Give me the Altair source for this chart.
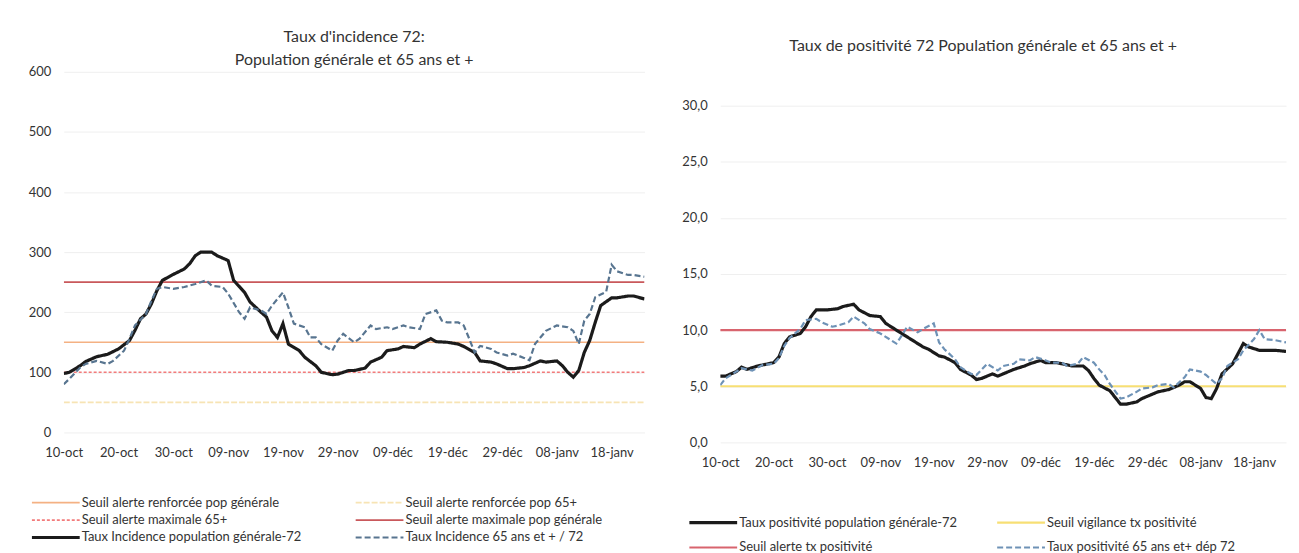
import altair as alt
import pandas as pd

FONT = "Lato, sans-serif"
DEBUT = "2020-10-10"
FIN = "2021-01-24"

# x-axis ticks
tick_dates = ["2020-10-10", "2020-10-20", "2020-10-30", "2020-11-09", "2020-11-19", "2020-11-29",
              "2020-12-09", "2020-12-19", "2020-12-29", "2021-01-08", "2021-01-18"]
tick_labels = ["10-oct", "20-oct", "30-oct", "09-nov", "19-nov", "29-nov",
               "09-déc", "19-déc", "29-déc", "08-janv", "18-janv"]

# ---------- Left chart: taux d'incidence ----------
inc_gen_jours = [0, 1, 3, 4, 6, 8, 10, 12, 13, 14, 15, 16, 17, 18, 20, 22, 23, 24, 25, 27, 28, 30, 31, 33, 34,
                 36, 37, 38, 39, 40, 41, 43, 44, 46, 47, 49, 50, 52, 53, 55, 56, 58, 59, 61, 62, 64, 65, 67,
                 68, 70, 72, 73, 75, 76, 78, 79, 81, 82, 84, 85, 87, 88, 90, 91, 92, 93, 94, 95, 96, 97, 98,
                 100, 101, 103, 104, 106]
inc_gen_vals = [98, 100, 111, 118, 126, 130, 139, 153, 170, 189, 197, 214, 236, 253, 263, 272, 281, 294, 300,
                300, 294, 286, 253, 233, 217, 200, 192, 169, 158, 181, 147, 136, 125, 111, 100, 96, 97, 103,
                103, 107, 117, 125, 136, 139, 143, 141, 147, 156, 151, 150, 147, 143, 133, 119, 117, 114, 106,
                106, 108, 111, 119, 117, 119, 111, 100, 92, 103, 133, 153, 183, 211, 224, 224, 227, 227, 222]

inc_65_jours = [0, 1, 3, 4, 6, 8, 9, 11, 12, 13, 15, 16, 17, 18, 20, 22, 24, 26, 27, 29, 30, 32, 33, 34, 36,
                37, 38, 40, 41, 42, 44, 45, 46, 47, 49, 50, 51, 53, 54, 56, 57, 59, 60, 62, 63, 65, 66, 68,
                69, 70, 72, 73, 74, 75, 76, 78, 79, 81, 82, 84, 85, 86, 88, 90, 92, 93, 94, 95, 96, 97, 99,
                100, 101, 103, 104, 106]
inc_65_vals = [80, 89, 108, 114, 119, 114, 119, 136, 156, 178, 197, 219, 239, 242, 239, 242, 247, 253, 244,
               242, 231, 200, 189, 208, 203, 197, 211, 233, 208, 181, 175, 158, 158, 147, 136, 153, 164, 150,
               156, 178, 172, 175, 172, 178, 175, 172, 197, 203, 186, 183, 183, 178, 156, 133, 144, 139, 133,
               128, 131, 124, 120, 147, 169, 178, 175, 169, 147, 186, 197, 225, 234, 279, 268, 262, 262, 259]

inc_seuils_noms = ["Seuil alerte renforcée pop générale", "Seuil alerte renforcée pop 65+",
                   "Seuil alerte maximale 65+", "Seuil alerte maximale pop générale"]
inc_seuils_vals = [150, 50, 100, 250]
inc_series_noms = ["Taux Incidence population générale-72", "Taux Incidence 65 ans et + / 72"]

# legend order (filled column by column: left column first, then right column)
inc_ordre = ["Seuil alerte renforcée pop générale", "Seuil alerte maximale 65+",
             "Taux Incidence population générale-72",
             "Seuil alerte renforcée pop 65+", "Seuil alerte maximale pop générale",
             "Taux Incidence 65 ans et + / 72"]
inc_couleurs = ["#f4b183", "#f27b7b", "#1b1b1b", "#f7e4b4", "#c9585b", "#587590"]
inc_tirets = [[1, 0], [3, 2], [1, 0], [6, 2], [1, 0], [6, 3]]
inc_epaisseurs = [1.6, 1.6, 3.2, 1.6, 1.8, 2.2]

# ---------- Right chart: taux de positivité ----------
pos_gen_jours = [0, 1, 3, 4, 5, 7, 9, 10, 11, 12, 13, 15, 16, 17, 18, 20, 22, 23, 25, 26, 28, 30, 31, 33, 35,
                 36, 38, 39, 41, 42, 44, 45, 47, 48, 49, 51, 52, 54, 55, 57, 58, 60, 61, 63, 64, 66, 68, 69,
                 70, 71, 73, 74, 75, 76, 78, 79, 81, 82, 84, 86, 87, 88, 90, 91, 92, 93, 94, 96, 97, 98, 99,
                 101, 103, 104, 106]
pos_gen_vals = [5.9, 5.9, 6.3, 6.7, 6.5, 6.8, 7.0, 7.1, 7.6, 8.8, 9.4, 9.7, 10.3, 11.2, 11.8, 11.8, 11.9, 12.1,
                12.3, 11.8, 11.3, 11.2, 10.6, 10.0, 9.4, 9.1, 8.5, 8.3, 7.7, 7.6, 7.1, 6.5, 6.0, 5.6, 5.7, 6.1,
                5.9, 6.3, 6.5, 6.8, 7.0, 7.3, 7.1, 7.1, 7.0, 6.8, 6.8, 6.4, 5.7, 5.1, 4.6, 4.0, 3.4, 3.4, 3.6,
                3.9, 4.3, 4.5, 4.7, 5.1, 5.4, 5.4, 4.8, 4.0, 3.9, 4.8, 6.1, 7.0, 7.9, 8.8, 8.5, 8.2, 8.2, 8.2,
                8.1]

pos_65_jours = [0, 1, 3, 4, 6, 8, 10, 11, 12, 13, 15, 16, 18, 19, 21, 22, 24, 25, 27, 28, 30, 32, 33, 34, 35,
                37, 38, 40, 41, 42, 44, 45, 47, 48, 50, 52, 53, 55, 56, 58, 59, 61, 62, 64, 65, 67, 68, 70,
                71, 72, 73, 75, 76, 78, 79, 81, 82, 84, 85, 87, 88, 90, 91, 93, 94, 95, 97, 98, 100, 101, 102,
                104, 106]
pos_65_vals = [5.1, 5.7, 6.3, 6.6, 6.4, 6.9, 7.0, 7.5, 8.6, 9.3, 10.1, 10.9, 11.0, 10.7, 10.3, 10.4, 10.7, 11.2,
               10.6, 10.1, 9.7, 9.1, 8.8, 9.5, 10.3, 9.8, 10.1, 10.6, 8.9, 8.3, 7.4, 6.7, 6.1, 6.0, 7.0, 6.4,
               6.8, 7.0, 7.4, 7.3, 7.6, 7.3, 7.1, 7.1, 6.8, 7.0, 7.6, 7.1, 6.5, 6.0, 5.2, 3.9, 4.0, 4.5, 4.8,
               4.9, 5.1, 5.2, 4.9, 5.8, 6.5, 6.3, 6.0, 5.2, 5.7, 6.8, 7.4, 8.2, 9.2, 10.0, 9.2, 9.1, 8.9]

pos_seuils_noms = ["Seuil vigilance tx positivité", "Seuil alerte tx positivité"]
pos_seuils_vals = [5, 10]
pos_series_noms = ["Taux positivité population générale-72", "Taux positivité 65 ans et+ dép 72"]

pos_ordre = ["Taux positivité population générale-72", "Seuil alerte tx positivité",
             "Seuil vigilance tx positivité", "Taux positivité 65 ans et+ dép 72"]
pos_couleurs = ["#1b1b1b", "#d8646e", "#f7df74", "#6e92b6"]
pos_tirets = [[1, 0], [1, 0], [1, 0], [6, 3]]
pos_epaisseurs = [3.2, 2.2, 2.2, 2.2]


def to_df(nom, jours, vals):
    dates = pd.Timestamp(DEBUT) + pd.to_timedelta(jours, unit="D")
    return pd.DataFrame({"date": dates.strftime("%Y-%m-%d"), "valeur": vals, "serie": nom})


def seuils_df(noms, vals):
    rows = []
    for n, v in zip(noms, vals):
        rows.append({"date": DEBUT, "valeur": v, "serie": n})
        rows.append({"date": FIN, "valeur": v, "serie": n})
    return pd.DataFrame(rows)


def ms(d):
    return int(pd.Timestamp(d, tz="UTC").value // 10**6)


label_map = "{" + ",".join(f"'{d}':'{l}'" for d, l in zip(tick_dates, tick_labels)) + "}"
x_label_expr = label_map + "[utcFormat(datum.value, '%Y-%m-%d')]"


def panel(layers_data, ordre, couleurs, tirets, epaisseurs, ydom, yvals, ylabel_expr,
          titre, title_offset, title_dx, width, height, legend):
    x = alt.X("date:T", title=None,
              scale=alt.Scale(type="utc", domain=[ms(DEBUT), ms(FIN)]),
              axis=alt.Axis(values=[ms(d) for d in tick_dates], labelExpr=x_label_expr,
                            grid=False, domain=False, ticks=False, labelPadding=14,
                            labelFontSize=13, labelFont=FONT, labelColor="#333333",
                            labelFlush=False, labelOverlap=False))
    y = alt.Y("valeur:Q", title=None,
              scale=alt.Scale(domain=ydom, nice=False, zero=True),
              axis=alt.Axis(values=yvals, labelExpr=ylabel_expr, domain=False, ticks=False,
                            labelPadding=13, labelFontSize=13, labelFont=FONT, labelColor="#333333",
                            grid=True, gridColor="#efefef", gridWidth=1))
    color = alt.Color("serie:N", scale=alt.Scale(domain=ordre, range=couleurs), legend=legend)
    dash = alt.StrokeDash("serie:N", scale=alt.Scale(domain=ordre, range=tirets), legend=legend)
    sw = alt.StrokeWidth("serie:N", scale=alt.Scale(type="ordinal", domain=ordre, range=epaisseurs),
                         legend=legend)
    layers = []
    for df in layers_data:
        layers.append(alt.Chart(df).mark_line(clip=True).encode(
            x=x, y=y, color=color, strokeDash=dash, strokeWidth=sw, detail="serie:N"))
    return alt.layer(*layers).properties(
        width=width, height=height,
        title=alt.TitleParams(titre, fontSize=16, font=FONT, fontWeight="normal", color="#333333",
                              anchor="middle", offset=title_offset, dx=title_dx, lineHeight=23)
    )


leg_inc = alt.Legend(title=None, orient="none", legendX=-34, legendY=425, columns=2,
                     symbolType="stroke", symbolSize=2300, labelFontSize=13, labelFont=FONT,
                     labelColor="#333333", clipHeight=15, rowPadding=2.5, columnPadding=52,
                     labelOffset=0, labelLimit=400)
leg_pos = alt.Legend(title=None, orient="none", legendX=-33, legendY=445, columns=2,
                     symbolType="stroke", symbolSize=2300, labelFontSize=13, labelFont=FONT,
                     labelColor="#333333", clipHeight=15, rowPadding=10, columnPadding=38,
                     labelOffset=0, labelLimit=400)

inc_layers = [
    seuils_df(inc_seuils_noms, inc_seuils_vals),
    to_df(inc_series_noms[0], inc_gen_jours, inc_gen_vals),
    to_df(inc_series_noms[1], inc_65_jours, inc_65_vals),
]
pos_layers = [
    seuils_df(pos_seuils_noms, pos_seuils_vals),
    to_df(pos_series_noms[0], pos_gen_jours, pos_gen_vals),
    to_df(pos_series_noms[1], pos_65_jours, pos_65_vals),
]

gauche = panel(inc_layers, inc_ordre, inc_couleurs, inc_tirets, inc_epaisseurs,
               [0, 600], [0, 100, 200, 300, 400, 500, 600], "datum.value",
               ["Taux d'incidence 72:", "Population générale et 65 ans et +"], -2, 0,
               583, 362, leg_inc)

droite = panel(pos_layers, pos_ordre, pos_couleurs, pos_tirets, pos_epaisseurs,
               [0, 33], [0, 5, 10, 15, 20, 25, 30], "replace(format(datum.value, '.1f'), '.', ',')",
               "Taux de positivité 72 Population générale et 65 ans et +", 18, -20,
               568, 372, leg_pos)

chart = alt.hconcat(gauche, droite, spacing=37).resolve_scale(
    color="independent", strokeDash="independent", strokeWidth="independent",
    x="independent", y="independent"
).resolve_legend(color="independent", strokeDash="independent", strokeWidth="independent").configure(
    padding={"left": 20, "top": 20, "right": 5, "bottom": 5}
).configure_view(stroke=None).configure_concat(spacing=37)

chart.save("out.html", embed_options={"renderer": "svg", "actions": False})
